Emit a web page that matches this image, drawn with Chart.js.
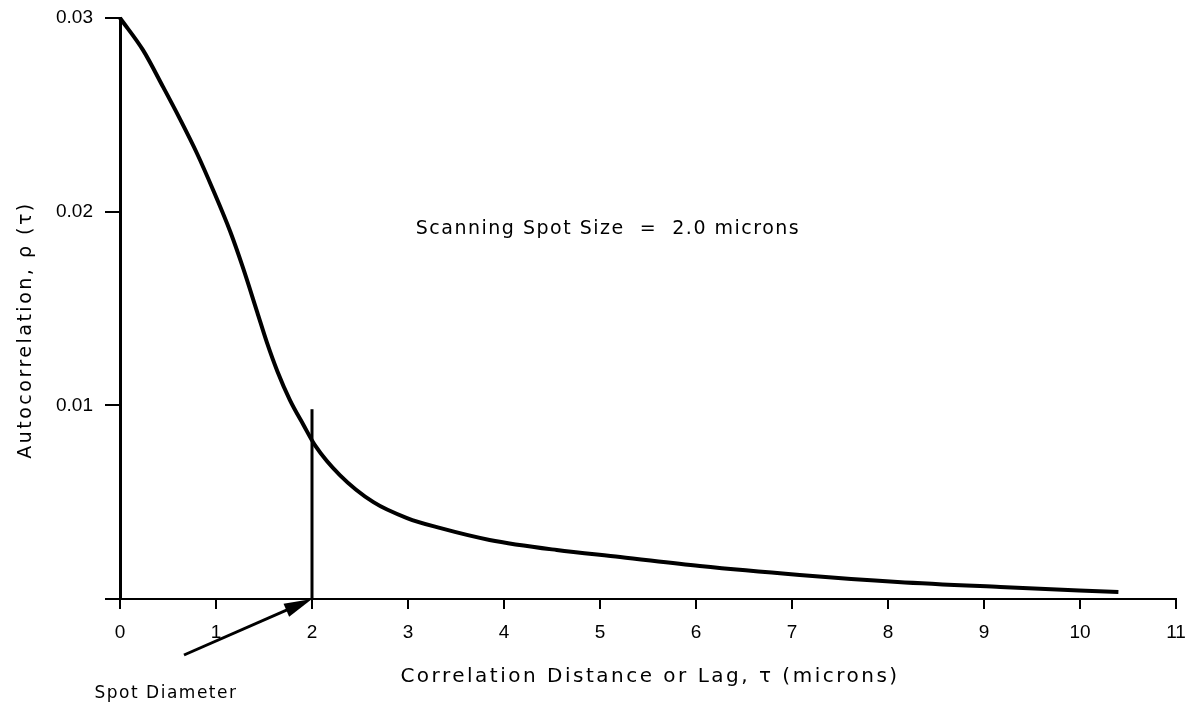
<!DOCTYPE html>
<html>
<head>
<meta charset="utf-8">
<script src="https://cdn.jsdelivr.net/npm/chart.js@4.4.1/dist/chart.umd.min.js"></script>
<style>
  html, body { margin: 0; padding: 0; background: #fff; }
  #wrap { width: 1194px; height: 706px; position: relative; }
</style>
</head>
<body>
<div id="wrap"><canvas id="chart"></canvas></div>
<script>
  // lag in microns and autocorrelation
  const LAG = [0, 0.24, 0.45, 0.625, 0.80, 0.97, 1.15, 1.28, 1.43, 1.53, 1.64, 1.77, 1.91, 2.03, 2.29, 2.64, 2.99, 3.33, 3.85, 4.55, 5.21, 6.04, 7.08, 8.1, 9.17, 10.4];
  const RHO = [0.0300, 0.02834, 0.02643, 0.02478, 0.02303, 0.02112, 0.01895, 0.01712, 0.01480, 0.01325, 0.01175, 0.01027, 0.00900, 0.00795, 0.0064, 0.0050, 0.00418, 0.00367, 0.00305, 0.00253, 0.00217, 0.0017, 0.00124, 0.00088, 0.00062, 0.00036];
  const X_TICKS = [0, 1, 2, 3, 4, 5, 6, 7, 8, 9, 10, 11];
  const Y_TICKS = [0, 0.01, 0.02, 0.03];
  const SPOT_DIAMETER = 2.0;
  const SPOT_MARK_TOP = 0.0098;

  const FONT = '"DejaVu Sans", sans-serif';
  const TICK_FONT = '"Liberation Sans", sans-serif';

  const overlay = {
    id: 'overlay',
    afterDraw(chart) {
      const { ctx, scales: { x, y } } = chart;
      const sx = x.getPixelForValue(SPOT_DIAMETER);
      const y0 = y.getPixelForValue(0);
      const yTop = y.getPixelForValue(SPOT_MARK_TOP);

      ctx.save();
      ctx.strokeStyle = '#000';
      ctx.fillStyle = '#000';

      // spot diameter marker
      ctx.lineWidth = 3;
      ctx.beginPath();
      ctx.moveTo(sx, y0);
      ctx.lineTo(sx, yTop);
      ctx.stroke();

      // arrow pointing at the axis
      const tailX = sx - 128, tailY = y0 + 56;
      const ang = Math.atan2(y0 - tailY, sx - tailX);
      ctx.lineWidth = 3;
      ctx.beginPath();
      ctx.moveTo(tailX, tailY);
      ctx.lineTo(sx - 16 * Math.cos(ang), y0 - 16 * Math.sin(ang));
      ctx.stroke();
      ctx.beginPath();
      ctx.moveTo(sx, y0);
      ctx.lineTo(sx - 28 * Math.cos(ang) + 7 * Math.sin(ang), y0 - 28 * Math.sin(ang) - 7 * Math.cos(ang));
      ctx.lineTo(sx - 28 * Math.cos(ang) - 7 * Math.sin(ang), y0 - 28 * Math.sin(ang) + 7 * Math.cos(ang));
      ctx.closePath();
      ctx.fill();

      ctx.textBaseline = 'middle';
      ctx.textAlign = 'center';

      ctx.letterSpacing = '1.5px';
      ctx.font = `17px ${FONT}`;
      ctx.fillText('Spot Diameter', 166, 694);

      ctx.letterSpacing = '2.5px';
      ctx.font = `20px ${FONT}`;
      ctx.fillText('Correlation Distance or Lag, τ (microns)', 650, 677);

      ctx.letterSpacing = '1.5px';
      ctx.font = `19px ${FONT}`;
      ctx.fillText('Scanning Spot Size  =  2.0 microns', 608, 229);

      ctx.letterSpacing = '2.5px';
      ctx.font = `19px ${FONT}`;
      ctx.translate(26, 330);
      ctx.rotate(-Math.PI / 2);
      ctx.fillText('Autocorrelation, ρ (τ)', 0, 0);
      ctx.restore();
    }
  };

  new Chart(document.getElementById('chart'), {
    type: 'line',
    data: {
      datasets: [{
        data: LAG.map((v, i) => ({ x: v, y: RHO[i] })),
        borderColor: '#000',
        borderWidth: 4,
        pointRadius: 0,
        cubicInterpolationMode: 'monotone',
        clip: 10,
        fill: false,
      }],
    },
    options: {
      responsive: true,
      maintainAspectRatio: false,
      animation: false,
      layout: { padding: { left: 0, right: 18, top: 18, bottom: 0 } },
      plugins: { legend: { display: false }, tooltip: { enabled: false } },
      scales: {
        x: {
          type: 'linear',
          min: 0,
          max: 11,
          afterBuildTicks: (s) => { s.ticks = X_TICKS.map((v) => ({ value: v })); },
          afterFit: (s) => { s.height = 107; s.paddingLeft = 0; s.paddingRight = 0; },
          grid: { drawOnChartArea: false, drawTicks: true, tickLength: 10, color: '#000', lineWidth: 2 },
          border: { display: true, color: '#000', width: 2 },
          ticks: { color: '#000', padding: 12, font: { family: TICK_FONT, size: 19 }, maxRotation: 0, autoSkip: false },
        },
        y: {
          type: 'linear',
          min: 0,
          max: 0.03,
          afterBuildTicks: (s) => { s.ticks = Y_TICKS.map((v) => ({ value: v })); },
          afterFit: (s) => { s.width = 120; s.paddingTop = 0; s.paddingBottom = 0; },
          grid: { drawOnChartArea: false, drawTicks: true, tickLength: 15, color: '#000', lineWidth: 2 },
          border: { display: true, color: '#000', width: 3 },
          ticks: {
            color: '#000',
            padding: 12,
            font: { family: TICK_FONT, size: 19 },
            callback: (v) => (v === 0 ? '' : v.toFixed(2)),
          },
        },
      },
    },
    plugins: [overlay],
  });
</script>
</body>
</html>
